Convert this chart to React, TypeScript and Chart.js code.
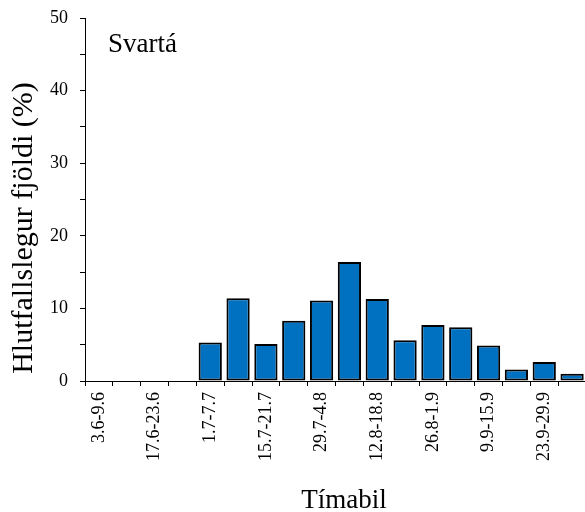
import React, { useEffect, useRef } from "react";
import { Chart, registerables } from "chart.js";

Chart.register(...registerables);

const categories: string[] = [
  "3.6-9.6", "10.6-16.6", "17.6-23.6", "24.6-30.6", "1.7-7.7", "8.7-14.7",
  "15.7-21.7", "22.7-28.7", "29.7-4.8", "5.8-11.8", "12.8-18.8", "19.8-25.8",
  "26.8-1.9", "2.9-8.9", "9.9-15.9", "16.9-22.9", "23.9-29.9", "30.9-6.10",
];
const values: number[] = [0, 0, 0, 0, 5.3, 11.4, 5.1, 8.3, 11.1, 16.4, 11.3, 5.6, 7.7, 7.4, 4.9, 1.6, 2.6, 1.0];
const yTickStep = 5;
const yLabelStep = 10;
const yMax = 50;
const panelLabel = "Svartá";
const xTitle = "Tímabil";
const yTitle = "Hlutfallslegur fjöldi (%)";

const FONT = '"Liberation Serif", "Times New Roman", serif';

export default function App() {
  const ref = useRef<HTMLCanvasElement | null>(null);
  useEffect(() => {
    if (!ref.current) return;
    const textPlugin = {
      id: "chartTexts",
      afterDraw(chart: any) {
        const ctx = chart.ctx;
        ctx.save();
        ctx.fillStyle = "#000";
        ctx.textBaseline = "alphabetic";
        // panel label
        ctx.font = `27px ${FONT}`;
        ctx.textAlign = "left";
        ctx.fillText(panelLabel, 108, 52);
        // x axis title
        ctx.font = `27px ${FONT}`;
        ctx.textAlign = "center";
        ctx.fillText(xTitle, 344, 508);
        // y axis title
        ctx.font = `30px ${FONT}`;
        ctx.translate(32, 228);
        ctx.rotate(-Math.PI / 2);
        ctx.textAlign = "center";
        ctx.fillText(yTitle, 0, 0);
        ctx.restore();
      },
    };
    const chart = new Chart(ref.current, {
      type: "bar",
      data: {
        labels: categories,
        datasets: [
          {
            data: values,
            backgroundColor: "#0070C0",
            borderColor: "#000",
            borderWidth: 2,
            borderSkipped: false,
            barPercentage: 0.835,
            categoryPercentage: 1,
          },
        ],
      },
      options: {
        animation: false,
        responsive: false,
        maintainAspectRatio: false,
        layout: { padding: { top: 18, left: 0, right: 4, bottom: 0 } },
        plugins: { legend: { display: false }, tooltip: { enabled: false } },
        scales: {
          x: {
            grid: { display: true, drawOnChartArea: false, tickLength: 5, color: "#000", offset: true },
            border: { display: true, color: "#000", width: 1 },
            ticks: {
              autoSkip: false,
              minRotation: 90,
              maxRotation: 90,
              padding: 6,
              color: "#000",
              font: { family: FONT, size: 18 },
              callback: (_v: any, i: number) => (i % 2 === 0 ? categories[i] : ""),
            },
            title: { display: false, text: xTitle },
            afterFit: (s: any) => {
              s.height = 131;
              s.paddingLeft = 0;
              s.paddingRight = 0;
            },
          },
          y: {
            min: 0,
            max: yMax,
            grid: { display: true, drawOnChartArea: false, tickLength: 5, color: "#000" },
            border: { display: true, color: "#000", width: 1 },
            ticks: {
              stepSize: yTickStep,
              padding: 12,
              color: "#000",
              font: { family: FONT, size: 18 },
              callback: (v: any) => (Number(v) % yLabelStep === 0 ? String(v) : ""),
            },
            title: { display: false, text: yTitle },
            afterFit: (s: any) => {
              s.width = 85;
              s.paddingTop = 0;
              s.paddingBottom = 0;
            },
          },
        },
      },
      plugins: [textPlugin],
    });
    return () => chart.destroy();
  }, []);
  return (
    <div style={{ position: "fixed", left: 0, top: 0, width: 585, height: 512, overflow: "hidden", background: "#fff" }}>
      <canvas ref={ref} width={590} height={512} style={{ width: 590, height: 512, display: "block" }} />
    </div>
  );
}
